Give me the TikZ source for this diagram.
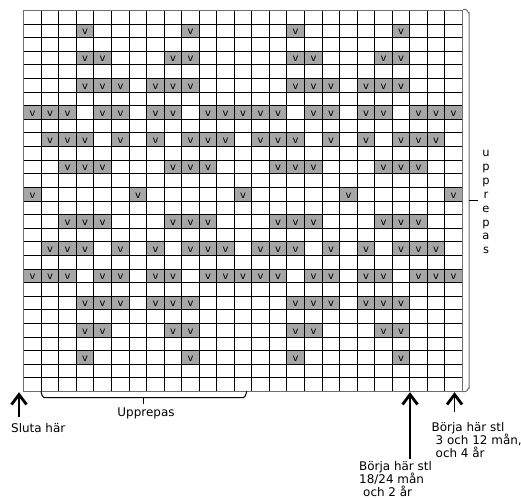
\documentclass[tikz,border=0pt]{standalone}
\usepackage{fontspec}
\setmainfont{DejaVu Sans}
\definecolor{cellgray}{RGB}{166,166,166}
\definecolor{edgegray}{RGB}{110,110,110}
\begin{document}
\begin{tikzpicture}[x=1bp,y=-1bp,
  declare function={gx(\i)=round(23.2+\i*17.55)+0.5; gy(\j)=round(10+\j*13.61)+0.5;},
  vtext/.style={inner sep=0pt, font=\fontsize{10}{10}\selectfont},
  gridline/.style={line width=1.8bp, black},
  lbl/.style={font=\fontsize{12}{13.3}\selectfont, align=left, inner sep=0pt, anchor=north west},
  chevron/.style={line width=2.8bp, line join=miter, line cap=butt},
  shaft/.style={line width=1.3bp},
  bracketline/.style={line width=1bp, edgegray}]
\useasboundingbox (0,0) rectangle (521,499);
% filled cells
\foreach \r/\cols in {
  2/{4,10,16,22},
  4/{4,5,9,10,16,17,21,22},
  6/{4,5,6,8,9,10,16,17,18,20,21,22},
  8/{1,2,3,5,6,8,9,11,12,13,14,15,17,18,20,21,23,24,25},
  10/{2,3,4,6,8,10,11,12,14,15,16,18,20,22,23,24},
  12/{3,4,5,9,10,11,15,16,17,21,22,23},
  14/{1,7,13,19,25},
  16/{3,4,5,9,10,11,15,16,17,21,22,23},
  18/{2,3,4,6,8,10,11,12,14,15,16,18,20,22,23,24},
  20/{1,2,3,5,6,8,9,11,12,13,14,15,17,18,20,21,23,24,25},
  22/{4,5,6,8,9,10,16,17,18,20,21,22},
  24/{4,5,9,10,16,17,21,22},
  26/{4,10,16,22}}{
  \foreach \c in \cols {
    \fill[cellgray] ({gx(\c-1)},{gy(\r-1)}) rectangle ({gx(\c)},{gy(\r)});
    \node[vtext] (c\r-\c) at ({(gx(\c-1)+gx(\c))/2},{(gy(\r-1)+gy(\r))/2+1}) {v};
  }
}
% grid
\foreach \i in {0,...,25} \draw[gridline] ({gx(\i)},{gy(0)}) -- ({gx(\i)},{gy(28)});
\foreach \j in {0,...,28} \draw[gridline] ({gx(0)},{gy(\j)}) -- ({gx(25)},{gy(\j)});
\draw[edgegray, line width=1.6bp] ({gx(0)},{gy(0)}) rectangle ({gx(25)},{gy(28)});
% right bracket
\draw[bracketline] (463,9.5) -- (465.5,9.5) to[out=0,in=-90] (469,13) -- (469,388) to[out=90,in=0] (465.5,391.5) -- (463,391.5);
\draw[line width=1.3bp] (469,200.5) -- (477.5,200.5);
\foreach \ch/\k in {u/0,p/1,p/2,r/3,e/4,p/5,a/6,s/7}
  \node[font=\fontsize{11.5}{12}\selectfont, inner sep=0pt, anchor=base] (up\k) at (486,{157+\k*13.8}) {\ch};
% bottom brace
\draw[line width=1bp] (41,392) to[out=90,in=180] (44,397.5) -- (243.5,397.5) to[out=0,in=90] (246.7,392);
\draw[line width=1bp] (143.7,397.5) -- (143.7,403.5);
\node[font=\fontsize{12}{13}\selectfont, inner sep=0pt, anchor=base] (upp) at (146,416.7) {Upprepas};
% labels
\node[lbl] (sluta) at (11,423) {Sluta här};
\node[lbl] (b1) at (359,461) {Börja här stl\\18/24 mån\\\hspace*{4pt}och 2 år};
\node[lbl] (b2) at (431.5,422) {Börja här stl\\\hspace*{4pt}3 och 12 mån,\\\hspace*{4pt}och 4 år};
% arrows
\coordinate (tA) at (19,394.5);
\coordinate (eA) at (19,417);
\draw[chevron] (11.5,404.5) -- (tA) -- (26.5,404.5);
\draw[shaft] (tA) -- (eA);
\coordinate (tB) at (410,394.5);
\coordinate (eB) at (410,459);
\draw[chevron] (402.5,404.5) -- (tB) -- (417.5,404.5);
\draw[shaft] (tB) -- (eB);
\coordinate (tC) at (454.5,394.5);
\coordinate (eC) at (454.5,412);
\draw[chevron] (447,404.5) -- (tC) -- (462,404.5);
\draw[shaft] (tC) -- (eC);
\end{tikzpicture}
\end{document}
